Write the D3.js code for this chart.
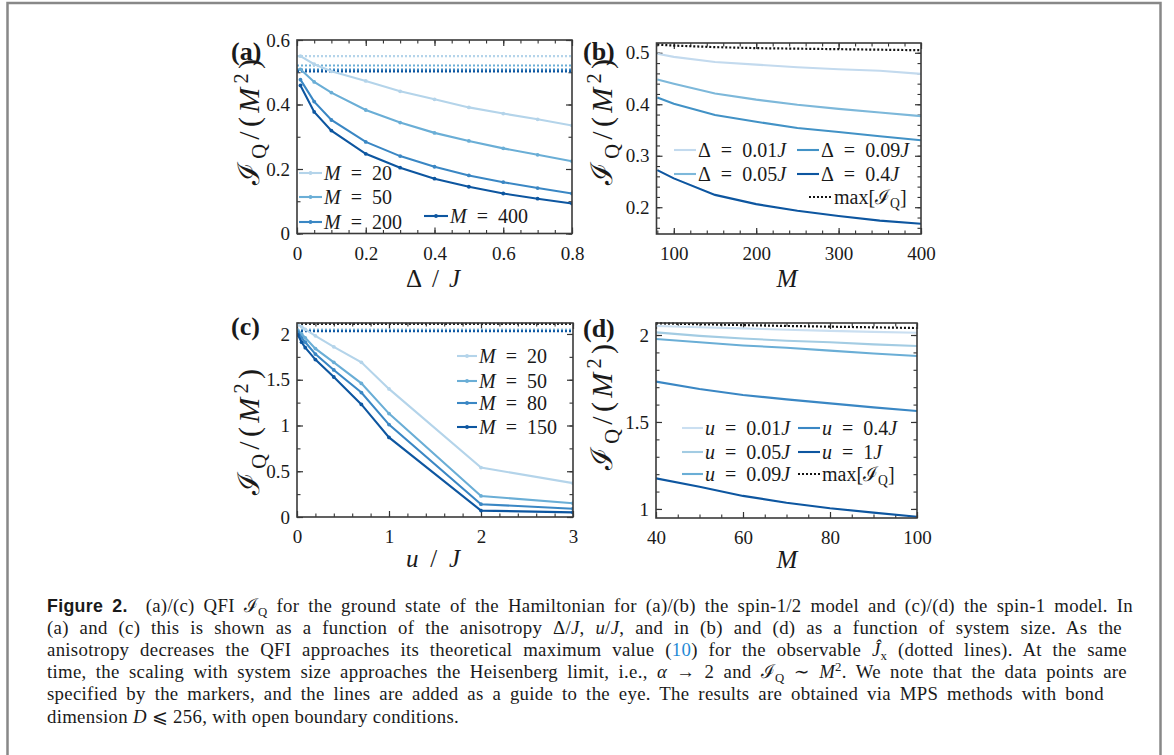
<!DOCTYPE html>
<html>
<head>
<meta charset="utf-8">
<script src="https://cdn.jsdelivr.net/npm/d3@7/dist/d3.min.js"></script>
<style>
  body { margin: 0; background: #fff; }
  text { font-family: "Liberation Serif", "DejaVu Serif", serif; fill: #1a1a1a; white-space: pre; }
</style>
</head>
<body>
<svg id="fig" width="1174" height="755"></svg>
<script>
/** (a) spin-1/2: QFI per M^2 vs anisotropy */
const deltaA = [0.01, 0.05, 0.1, 0.2, 0.3, 0.4, 0.5, 0.6, 0.7, 0.8];
const sizesA = [20, 50, 200, 400];
const qfiA = [
  [0.55, 0.525, 0.503, 0.473, 0.441, 0.416, 0.391, 0.372, 0.354, 0.335],
  [0.509, 0.47, 0.437, 0.383, 0.344, 0.312, 0.287, 0.264, 0.244, 0.224],
  [0.477, 0.409, 0.352, 0.284, 0.24, 0.207, 0.18, 0.159, 0.141, 0.124],
  [0.459, 0.377, 0.319, 0.247, 0.204, 0.17, 0.145, 0.124, 0.108, 0.093],
];
const maxA = [0.55, 0.521, 0.508, 0.503];

/** (b) spin-1/2: QFI per M^2 vs system size */
const sizesB = [80, 100, 150, 200, 250, 300, 350, 400];
const deltasB = ["0.01", "0.05", "0.09", "0.4"];
const qfiB = [
  [0.498, 0.492, 0.482, 0.477, 0.472, 0.468, 0.465, 0.459],
  [0.448, 0.44, 0.421, 0.409, 0.399, 0.391, 0.384, 0.377],
  [0.413, 0.401, 0.379, 0.366, 0.354, 0.346, 0.338, 0.33],
  [0.272, 0.256, 0.224, 0.206, 0.193, 0.183, 0.174, 0.168],
];
const maxB = [0.516, 0.514, 0.511, 0.509, 0.508, 0.507, 0.506, 0.505];

/** (c) spin-1: QFI per M^2 vs u/J */
const uC = [0.01, 0.05, 0.09, 0.2, 0.4, 0.7, 1, 2, 3];
const sizesC = [20, 50, 80, 150];
const qfiC = [
  [2.1, 2.08, 2.05, 1.98, 1.86, 1.69, 1.4, 0.54, 0.37],
  [2.04, 2.0, 1.958, 1.84, 1.69, 1.46, 1.13, 0.23, 0.15],
  [2.02, 1.958, 1.91, 1.78, 1.607, 1.36, 1.01, 0.14, 0.09],
  [1.99, 1.91, 1.85, 1.72, 1.53, 1.23, 0.87, 0.07, 0.05],
];
const maxC = [2.05, 2.04, 2.035, 2.03];
const maxCTop = 2.11;

/** (d) spin-1: QFI per M^2 vs system size */
const sizesD = [40, 50, 60, 70, 80, 90, 100];
const usD = ["0.01", "0.05", "0.09", "0.4", "1"];
const qfiD = [
  [2.052, 2.045, 2.038, 2.03, 2.024, 2.018, 2.013],
  [2.015, 1.995, 1.98, 1.967, 1.958, 1.946, 1.937],
  [1.977, 1.958, 1.94, 1.927, 1.91, 1.894, 1.879],
  [1.732, 1.69, 1.655, 1.63, 1.607, 1.584, 1.563],
  [1.176, 1.128, 1.075, 1.036, 1.004, 0.979, 0.955],
];
const maxD = [2.067, 2.062, 2.057, 2.052, 2.048, 2.044, 2.04];

/** caption, one array per printed line: [text, kind] */
const captionLines = [
  [["Figure 2.", "b"], ["  (a)/(c) QFI ", "n"], ["\u2110", "n"], ["Q", "sub"],
   [" for the ground state of the Hamiltonian for (a)/(b) the spin-1/2 model and (c)/(d) the spin-1 model. In", "n"]],
  [["(a) and (c) this is shown as a function of the anisotropy \u0394/", "n"], ["J", "i"], [", ", "n"], ["u", "i"],
   ["/", "n"], ["J", "i"], [", and in (b) and (d) as a function of system size. As the", "n"]],
  [["anisotropy decreases the QFI approaches its theoretical maximum value (", "n"], ["10", "link"],
   [") for the observable ", "n"], ["\u0134", "i"], ["x", "sub"], [" (dotted lines). At the same", "n"]],
  [["time, the scaling with system size approaches the Heisenberg limit, i.e., ", "n"], ["\u03b1", "i"],
   [" \u2192 2 and ", "n"], ["\u2110", "n"], ["Q", "sub"], [" \u223c ", "n"], ["M", "i"], ["2", "sup"],
   [". We note that the data points are", "n"]],
  [["specified by the markers, and the lines are added as a guide to the eye. The results are obtained via MPS methods with bond", "n"]],
  [["dimension ", "n"], ["D", "i"], [" \u2a7d 256, with open boundary conditions.", "n"]],
];
// right edge of each justified caption line (last line is left ragged)
const captionEnds = [1133, 1122, 1127, 1127, 1104, null];

const fig = d3.select("#fig");
const EQ = "\u2002=\u2002";

// border around the figure box
fig.append("rect").attr("x", 7.5).attr("y", 3).attr("width", 1153).attr("height", 770)
  .attr("fill", "none").attr("stroke", "#888").attr("stroke-width", 2.5);

// writes mixed math text into a <text>, shifting sub/superscripts
const mathText = (sel, parts, size) => {
  let shift = 0;
  parts.forEach(([t, kind]) => {
    const s = sel.append("tspan").text(t);
    let target = 0;
    let fs = size;
    if (kind === "sub") { target = 0.22 * size; fs = 0.68 * size; }
    if (kind === "sup") { target = -0.38 * size; fs = 0.68 * size; }
    if (kind === "i") s.attr("font-style", "italic");
    if (kind === "b") s.attr("font-weight", "bold").style("font-family", "'Liberation Sans', sans-serif");
    if (kind === "link") s.style("fill", "#1f8ad6");
    s.attr("font-size", kind === "b" ? size - 1 : fs).attr("dy", target - shift);
    shift = target;
  });
  return sel;
};

const minorTicks = (dom, step) =>
  d3.range(Math.ceil(dom[0] / step - 1e-9), Math.floor(dom[1] / step + 1e-9) + 1)
    .map((k) => +(k * step).toFixed(6));

const drawPanel = (p) => {
  const x = d3.scaleLinear().domain(p.xDomain).range([p.left, p.right]);
  const y = d3.scaleLinear().domain(p.yDomain).range([p.bottom, p.top]);
  const g = fig.append("g");

  g.append("clipPath").attr("id", "clip-" + p.id).append("rect")
    .attr("x", p.left).attr("y", p.top - 1)
    .attr("width", p.right - p.left).attr("height", p.bottom - p.top + 2);

  // tick marks (inside, mirrored on all sides)
  const axes = [
    [d3.axisBottom, x, `translate(0,${p.bottom})`, p.xMajor, p.xMinor, true],
    [d3.axisTop, x, `translate(0,${p.top})`, p.xMajor, p.xMinor, false],
    [d3.axisLeft, y, `translate(${p.left},0)`, p.yMajor, p.yMinor, true],
    [d3.axisRight, y, `translate(${p.right},0)`, p.yMajor, p.yMinor, false],
  ];
  axes.forEach(([fn, scale, tr, major, minorStep, labels]) => {
    const minor = minorTicks(scale.domain(), minorStep);
    g.append("g").attr("transform", tr)
      .call(fn(scale).tickValues(minor).tickSize(-3.5).tickFormat(""))
      .call((a) => a.select(".domain").remove())
      .selectAll("line").attr("stroke", "#333").attr("stroke-width", 1.1);
    const ax = g.append("g").attr("transform", tr)
      .call(fn(scale).tickValues(major).tickSize(-6)
        .tickPadding(fn === d3.axisBottom ? 13 : 7)
        .tickFormat(labels ? String : ""))
      .call((a) => a.select(".domain").remove());
    ax.attr("font-family", null).attr("font-size", 19);
    ax.selectAll("line").attr("stroke", "#333").attr("stroke-width", 1.2);
    ax.selectAll("text").attr("fill", "#1a1a1a");
  });

  // reference maxima (dotted)
  const lines = g.append("g").attr("clip-path", `url(#clip-${p.id})`);
  p.dotted.forEach((d) => {
    lines.append("path")
      .attr("d", d3.line().x((v, i) => x(d.xs[i])).y((v) => y(v))(d.values))
      .attr("fill", "none").attr("stroke", d.color).attr("stroke-width", 2.2)
      .attr("stroke-dasharray", "2,2");
  });

  // series
  p.series.forEach((s) => {
    lines.append("path")
      .attr("d", d3.line().x((v, i) => x(p.xs[i])).y((v) => y(v))(s.values))
      .attr("fill", "none").attr("stroke", s.color).attr("stroke-width", 2.1);
    if (p.markers) {
      lines.selectAll(null).data(s.values).join("circle")
        .attr("cx", (v, i) => x(p.xs[i])).attr("cy", (v) => y(v))
        .attr("r", 1.9).attr("fill", s.color);
    }
  });

  // frame
  g.append("rect").attr("x", p.left).attr("y", p.top)
    .attr("width", p.right - p.left).attr("height", p.bottom - p.top)
    .attr("fill", "none").attr("stroke", "#3a3a3a").attr("stroke-width", 1.6);

  // legend
  p.legend.forEach((e) => {
    g.append("line").attr("x1", e.x1).attr("x2", e.x2).attr("y1", e.y).attr("y2", e.y)
      .attr("stroke", e.color).attr("stroke-width", 2.1)
      .attr("stroke-dasharray", e.dotted ? "2,2" : null);
    if (p.markers && !e.dotted) {
      g.append("circle").attr("cx", (e.x1 + e.x2) / 2).attr("cy", e.y).attr("r", 1.9).attr("fill", e.color);
    }
    mathText(g.append("text").attr("x", e.x2 + 2).attr("y", e.y + 7), e.parts, 20);
  });

  // axis titles and panel tag
  mathText(g.append("text").attr("x", p.xLabelX).attr("y", p.xLabelY)
    .attr("text-anchor", "middle").attr("textLength", p.xLabelW).attr("lengthAdjust", "spacing"),
    p.xLabel, 25);
  mathText(g.append("text")
    .attr("transform", `translate(${p.yLabelX},${p.yLabelY}) rotate(-90)`)
    .attr("text-anchor", "middle").attr("textLength", 126).attr("lengthAdjust", "spacing"),
    [["\u2110", "n"], ["Q", "sub"], ["/(", "n"], ["M", "i"], ["2", "sup"], [")", "n"]], 30);
  g.append("text").attr("x", p.tagX).attr("y", p.tagY)
    .attr("font-weight", "bold").attr("font-size", 26).text(p.tag);
};

const bluesA = ["#b4d4ea", "#6aaed6", "#3a87c4", "#0d56a0"];
const bluesB = ["#c3daee", "#7db8da", "#4292c6", "#0d56a0"];
const bluesD = ["#cadff1", "#a3cce3", "#6aaed6", "#3a87c4", "#0d56a0"];

// (a)
drawPanel({
  id: "a", tag: "(a)", tagX: 231, tagY: 60,
  left: 297, right: 572, top: 40, bottom: 233.5,
  xDomain: [0, 0.8], yDomain: [0, 0.6],
  xMajor: [0, 0.2, 0.4, 0.6, 0.8], xMinor: 0.05,
  yMajor: [0, 0.2, 0.4, 0.6], yMinor: 0.1,
  xs: deltaA, markers: true,
  series: qfiA.map((v, i) => ({ values: v, color: bluesA[i] })),
  dotted: maxA.map((m, i) => ({ xs: [0, 0.8], values: [m, m], color: bluesA[i] })),
  legend: sizesA.map((m, i) => ({
    x1: i < 3 ? 299 : 424, x2: i < 3 ? 322 : 448,
    y: [173, 197, 222, 216][i], color: bluesA[i],
    parts: [["M", "i"], [EQ + m, "n"]],
  })),
  xLabel: [["\u0394/", "n"], ["J", "i"]], xLabelX: 433, xLabelY: 287, xLabelW: 54,
  yLabelX: 259, yLabelY: 122,
});

// (b): legend is two columns, filled top-to-bottom
drawPanel({
  id: "b", tag: "(b)", tagX: 583, tagY: 60,
  left: 656.5, right: 921, top: 43, bottom: 234,
  xDomain: [79, 400], yDomain: [0.148, 0.519],
  xMajor: [100, 200, 300, 400], xMinor: 20,
  yMajor: [0.2, 0.3, 0.4, 0.5], yMinor: 0.02,
  xs: sizesB, markers: false,
  series: qfiB.map((v, i) => ({ values: v, color: bluesB[i] })),
  dotted: [{ xs: sizesB, values: maxB, color: "#111" }],
  legend: deltasB.map((d, i) => ({
    x1: i < 2 ? 674 : 797, x2: i < 2 ? 696 : 819,
    y: i % 2 === 0 ? 150 : 174, color: bluesB[i],
    parts: [["\u0394" + EQ + d, "n"], ["J", "i"]],
  })).concat([{ x1: 809, x2: 832, y: 197, color: "#111", dotted: true,
    parts: [["max[\u2110", "n"], ["Q", "sub"], ["]", "n"]] }]),
  xLabel: [["M", "i"]], xLabelX: 787, xLabelY: 287, xLabelW: 24,
  yLabelX: 612, yLabelY: 122,
});

// (c)
drawPanel({
  id: "c", tag: "(c)", tagX: 231, tagY: 335,
  left: 297, right: 573, top: 323, bottom: 517,
  xDomain: [0, 3], yDomain: [0, 2.12],
  xMajor: [0, 1, 2, 3], xMinor: 0.2,
  yMajor: [0, 0.5, 1, 1.5, 2], yMinor: 0.25,
  xs: uC, markers: true,
  series: qfiC.map((v, i) => ({ values: v, color: bluesA[i] })),
  dotted: [{ xs: [0, 3], values: [maxCTop, maxCTop], color: "#222" }]
    .concat(maxC.map((m, i) => ({ xs: [0, 3], values: [m, m], color: bluesA[i] }))),
  legend: sizesC.map((m, i) => ({
    x1: 457, x2: 477, y: [356, 381, 403, 427][i], color: bluesA[i],
    parts: [["M", "i"], [EQ + m, "n"]],
  })),
  xLabel: [["u", "i"], ["/", "n"], ["J", "i"]], xLabelX: 433, xLabelY: 567, xLabelW: 54,
  yLabelX: 259, yLabelY: 432,
});

// (d)
drawPanel({
  id: "d", tag: "(d)", tagX: 583, tagY: 337,
  left: 656, right: 917, top: 323, bottom: 518,
  xDomain: [40, 100], yDomain: [0.948, 2.069],
  xMajor: [40, 60, 80, 100], xMinor: 5,
  yMajor: [1, 1.5, 2], yMinor: 0.1,
  xs: sizesD, markers: false,
  series: qfiD.map((v, i) => ({ values: v, color: bluesD[i] })),
  dotted: [{ xs: sizesD, values: maxD, color: "#111" }],
  legend: usD.map((u, i) => ({
    x1: i < 3 ? 682 : 798, x2: i < 3 ? 703 : 820,
    y: [428, 452, 474, 428, 452][i], color: bluesD[i],
    parts: [["u", "i"], [EQ + u, "n"], ["J", "i"]],
  })).concat([{ x1: 798, x2: 820, y: 474, color: "#111", dotted: true,
    parts: [["max[\u2110", "n"], ["Q", "sub"], ["]", "n"]] }]),
  xLabel: [["M", "i"]], xLabelX: 787, xLabelY: 568, xLabelW: 24,
  yLabelX: 612, yLabelY: 407,
});

// caption, justified by widening the word gaps
captionLines.forEach((parts, i) => {
  const t = fig.append("text").attr("x", 47).attr("y", 612 + i * 22.1)
    .attr("letter-spacing", 0.3);
  mathText(t, parts, 18.8);
  if (captionEnds[i]) {
    const natural = t.node().getComputedTextLength();
    const gaps = parts.map((d) => d[0]).join("").split(" ").length - 1;
    t.attr("word-spacing", Math.max(0, (captionEnds[i] - 47 - natural) / gaps));
  }
});
</script>
</body>
</html>
